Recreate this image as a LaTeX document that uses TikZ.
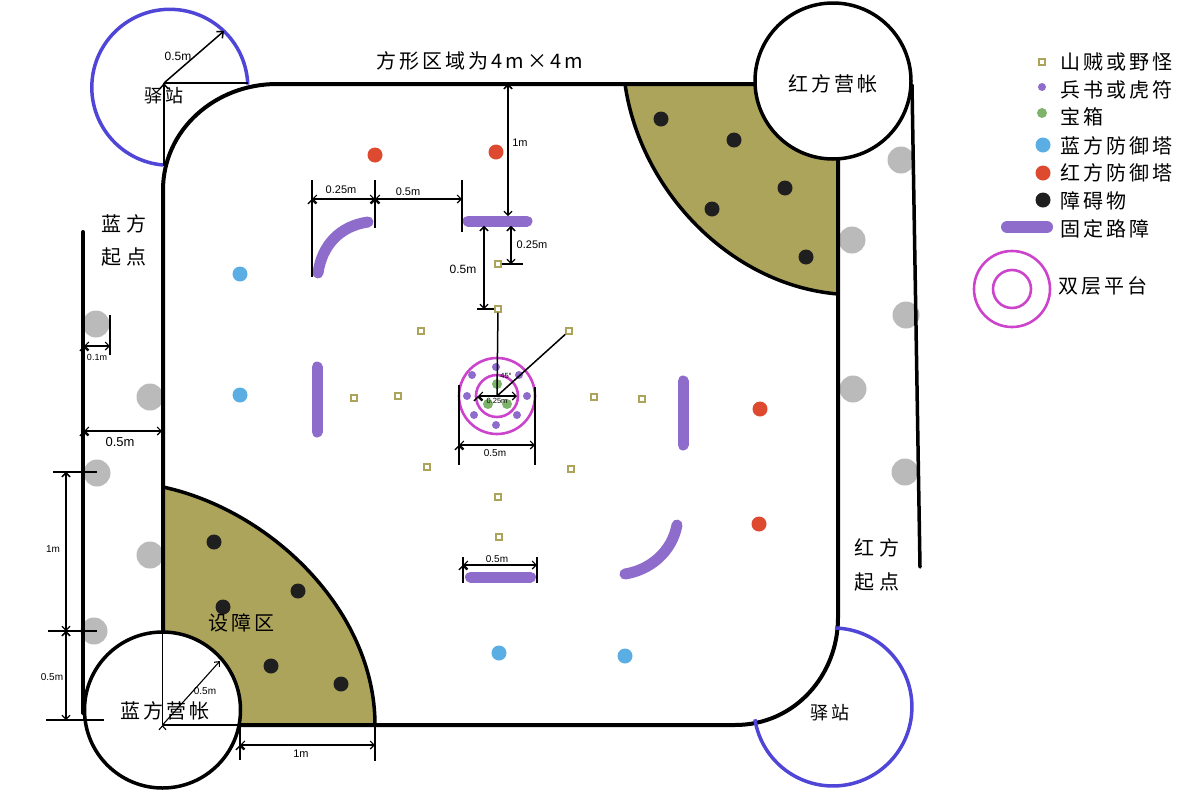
\documentclass[tikz,border=0pt]{standalone}
\usepackage{fontspec}
\setmainfont{Liberation Sans}
\newfontfamily\cjk[LetterSpace=15]{Noto Sans CJK SC}
\usetikzlibrary{shapes,arrows.meta}
\definecolor{zone}{HTML}{ADA45C}
\definecolor{barrier}{HTML}{8E6CCB}
\definecolor{platform}{HTML}{CC44CC}
\definecolor{relay}{HTML}{4F46D8}
\definecolor{redtower}{HTML}{DD4A2F}
\definecolor{bluetower}{HTML}{5AAEE3}
\definecolor{chest}{HTML}{7DB36B}
\definecolor{rock}{HTML}{1F1F1F}
\tikzset{
  wall/.style={draw=black,line width=4pt},
  tent/.style={shape=circle,draw=black,fill=white,line width=3.5pt,inner sep=0pt,minimum size=156pt},
  spot/.style={shape=circle,fill=#1,inner sep=0pt,minimum size=15pt},
  gem/.style={shape=circle,fill=#1,inner sep=0pt,minimum size=8pt},
  grey/.style={shape=circle,fill=black!27,inner sep=0pt,minimum size=27pt},
  mob/.style={shape=rectangle,draw=zone,fill=white,line width=1.4pt,inner sep=0pt,minimum size=6pt},
  ring/.style={shape=circle,draw=platform,line width=2.6pt,inner sep=0pt,minimum size=#1},
  bar/.style={draw=barrier,line width=11pt,line cap=round},
  dim/.style={draw=black,line width=1.1pt,{Straight Barb[length=4pt,width=8pt]}-{Straight Barb[length=4pt,width=8pt]}},
  tick/.style={draw=black,line width=1.5pt},
  lab/.style={font=\fontsize{#1}{#1}\selectfont,inner sep=0pt},
  word/.style={font=\cjk\fontsize{20}{20}\selectfont,inner sep=0pt},
  key/.style={word,anchor=west},
}
\begin{document}
\begin{tikzpicture}[x=1pt,y=-1pt]
\useasboundingbox (0,0) rectangle (1200,793);

% zones
\fill [zone] (163,725) -- (163,487) .. controls (270,510) and (375,610) .. (375,725) -- cycle;
\fill [zone] (625,84) .. controls (640,190) and (730,285) .. (838,294) -- (838,84) -- cycle;

% grey spots
\node[grey] (gl1) at (96,324) {};
\node[grey] (gl2) at (150,397) {};
\node[grey] (gl3) at (97,473) {};
\node[grey] (gl4) at (150,555) {};
\node[grey] (gl5) at (94,631) {};
\node[grey] (gr1) at (901,160) {};
\node[grey] (gr2) at (852,240) {};
\node[grey] (gr3) at (906,315) {};
\node[grey] (gr4) at (853,389) {};
\node[grey] (gr5) at (905,472) {};

% walls
\draw [wall] (163,725) -- (163,190) .. controls (163,130) and (215,84) .. (277,84) -- (760,84);
\draw [wall] (838,150) -- (838,618) .. controls (838,675) and (795,725) .. (735,725) -- (240,725);
\draw [wall,line width=3.5pt] (163,487) .. controls (270,510) and (375,610) .. (375,725);
\draw [wall,line width=3.5pt] (625,84) .. controls (640,190) and (730,285) .. (838,294);
\draw [wall,line cap=round] (83,232) -- (83,713);
\draw [wall,line width=3.5pt,line cap=round] (912,85) -- (920,567);

% relay stations
\draw [draw=relay,line width=3.5pt] (163,165) arc [start angle=95,end angle=358,radius=78];
\draw [draw=relay,line width=3.5pt] (835,628) arc [start angle=-88.5,end angle=171,radius=79];

% camps
\node[tent] (redcamp) at (833,81) {};
\node[tent] (bluecamp) at (162.5,710) {};

% obstacles
\node[spot=rock] (o1) at (661,119) {};
\node[spot=rock] (o2) at (734,140) {};
\node[spot=rock] (o3) at (785,188) {};
\node[spot=rock] (o4) at (712,209) {};
\node[spot=rock] (o5) at (806,257) {};
\node[spot=rock] (o6) at (214,542) {};
\node[spot=rock] (o7) at (298,591) {};
\node[spot=rock] (o8) at (223,607) {};
\node[spot=rock] (o9) at (271,666) {};
\node[spot=rock] (o10) at (341,684) {};

% towers
\node[spot=redtower] (r1) at (375,155) {};
\node[spot=redtower] (r2) at (496,152) {};
\node[spot=redtower] (r3) at (760,409) {};
\node[spot=redtower] (r4) at (759,524) {};
\node[spot=bluetower] (b1) at (240,274) {};
\node[spot=bluetower] (b2) at (240,395) {};
\node[spot=bluetower] (b3) at (499,653) {};
\node[spot=bluetower] (b4) at (625,656) {};

% mobs
\node[mob] (m1) at (498,264) {};
\node[mob] (m2) at (498,309) {};
\node[mob] (m3) at (421,331) {};
\node[mob] (m4) at (569,331) {};
\node[mob] (m5) at (354,398) {};
\node[mob] (m6) at (398,396) {};
\node[mob] (m7) at (594,397) {};
\node[mob] (m8) at (642,399) {};
\node[mob] (m9) at (427,467) {};
\node[mob] (m10) at (571,469) {};
\node[mob] (m11) at (498,497) {};
\node[mob] (m12) at (499,537) {};

% fixed barriers
\draw [bar] (468,221) -- (527,221);
\draw [bar] (317,367) -- (317,432);
\draw [bar] (683,381) -- (683,445);
\draw [bar] (470.5,577) -- (530.5,577);
\draw [bar] (318,273) .. controls (322,245) and (340,226) .. (368,222);
\draw [bar] (625,574) .. controls (650,570) and (672,552) .. (677,525);

% platform
\node[ring=76pt] (outer) at (497,396) {};
\node[ring=42pt] (inner) at (497,396) {};
\node[gem=barrier] (p1) at (496,367) {};
\node[gem=barrier] (p2) at (519,375) {};
\node[gem=barrier] (p3) at (527,396) {};
\node[gem=barrier] (p4) at (517,415) {};
\node[gem=barrier] (p5) at (496,425) {};
\node[gem=barrier] (p6) at (474,415) {};
\node[gem=barrier] (p7) at (467,396) {};
\node[gem=barrier] (p8) at (472,375) {};
\node[spot=chest,minimum size=10pt] (g1) at (497,384) {};
\node[spot=chest,minimum size=10pt] (g2) at (488,404) {};
\node[spot=chest,minimum size=10pt] (g3) at (507,404) {};
\coordinate (mid) at (497,396);

% dimension points
\coordinate (a1) at (312,199);
\coordinate (a2) at (375,199);
\coordinate (a3) at (462,199);
\coordinate (t1) at (312,180);
\coordinate (t2) at (312,277);
\coordinate (t3) at (375,180);
\coordinate (t4) at (375,228);
\coordinate (t5) at (462,180);
\coordinate (t6) at (462,232);
\coordinate (c1) at (508,84);
\coordinate (c2) at (508,216);
\coordinate (c3) at (511,226);
\coordinate (c4) at (511,264);
\coordinate (c5) at (484,226);
\coordinate (c6) at (484,309);
\coordinate (c7) at (523,264);
\coordinate (c8) at (477,309);
\coordinate (w1) at (478,396);
\coordinate (w2) at (517,396);
\coordinate (w3) at (459,445);
\coordinate (w4) at (535,445);
\coordinate (w5) at (459,385);
\coordinate (w6) at (459,465);
\coordinate (w7) at (535,387);
\coordinate (w8) at (535,465);
\coordinate (n1) at (463,565);
\coordinate (n2) at (537,565);
\coordinate (n3) at (463,557);
\coordinate (n4) at (463,583);
\coordinate (n5) at (537,557);
\coordinate (n6) at (537,583);
\coordinate (l1) at (84,346);
\coordinate (l2) at (110,346);
\coordinate (l3) at (110,315);
\coordinate (l4) at (110,355);
\coordinate (l5) at (84,431);
\coordinate (l6) at (162,431);
\coordinate (v1) at (66,472);
\coordinate (v2) at (66,631);
\coordinate (v3) at (66,720);
\coordinate (v4) at (53,472);
\coordinate (v5) at (97,472);
\coordinate (v6) at (48,631);
\coordinate (v7) at (97,631);
\coordinate (v8) at (46,720);
\coordinate (v9) at (104,720);
\coordinate (u1) at (240,745);
\coordinate (u2) at (375,745);
\coordinate (u3) at (240,725);
\coordinate (u4) at (240,760);
\coordinate (u5) at (375,725);
\coordinate (u6) at (375,761);
\coordinate (s0) at (164,83);
\coordinate (s1) at (224,31);
\coordinate (s2) at (248,83);
\coordinate (s3) at (164,166);
\coordinate (k0) at (162.5,725);
\coordinate (k1) at (220,661);
\coordinate (k2) at (162.5,632);
\coordinate (k3) at (240,725);

% dimensions
\path [dim] (a1) edge (a2);
\path [dim] (a2) edge (a3);
\path [tick] (t1) edge (t2);
\path [tick] (t3) edge (t4);
\path [tick] (t5) edge (t6);
\path [dim] (c1) edge (c2);
\path [dim] (c3) edge (c4);
\path [dim] (c5) edge (c6);
\path [tick] (m1) edge (c7);
\path [tick] (c8) edge (m2);
\path [tick] (m2) edge (mid);
\path [tick] (mid) edge (m4);
\path [dim] (w1) edge (w2);
\path [dim] (w3) edge (w4);
\path [tick] (w5) edge (w6);
\path [tick] (w7) edge (w8);
\path [dim] (n1) edge (n2);
\path [tick] (n3) edge (n4);
\path [tick] (n5) edge (n6);
\path [dim] (l1) edge (l2);
\path [tick] (l3) edge (l4);
\path [dim] (l5) edge (l6);
\path [dim] (v1) edge (v2);
\path [dim] (v2) edge (v3);
\path [tick] (v4) edge (v5);
\path [tick] (v6) edge (v7);
\path [tick] (v8) edge (v9);
\path [dim] (u1) edge (u2);
\path [tick] (u3) edge (u4);
\path [tick] (u5) edge (u6);
\path [tick,-{Straight Barb[length=5pt,width=9pt]}] (s0) edge (s1);
\path [tick] (s0) edge (s2);
\path [tick] (s0) edge (s3);
\path [tick,line width=1.1pt,-{Straight Barb[length=4pt,width=7pt]}] (k0) edge (k1);
\path [tick,line width=1.1pt] (k0) edge (k2);
\path [tick,line width=1.1pt] (k0) edge (k3);

% dimension labels
\node[lab=11] (d1) at (341,190) {0.25m};
\node[lab=11] (d2) at (408,192) {0.5m};
\node[lab=11] (d3) at (520,143) {1m};
\node[lab=11] (d4) at (532,245) {0.25m};
\node[lab=12] (d5) at (463,269) {0.5m};
\node[lab=7.5] (d6) at (506,376) {45°};
\node[lab=7.5] (d7) at (497,401) {0.25m};
\node[lab=10] (d8) at (495,453) {0.5m};
\node[lab=10] (d16) at (497,559) {0.5m};
\node[lab=9] (d9) at (97,357) {0.1m};
\node[lab=13] (d10) at (120,442) {0.5m};
\node[lab=10] (d11) at (53,549) {1m};
\node[lab=10] (d12) at (52,677) {0.5m};
\node[lab=11] (d13) at (301,754) {1m};
\node[lab=10] (d14) at (205,691) {0.5m};
\node[lab=12] (d15) at (178,56) {0.5m};

% words
\node[word] (title) at (480,61) {方形区域为4m×4m};
\node[word] (bs1) at (124,224) {蓝\hspace{5pt}方};
\node[word] (bs2) at (124,257) {起\hspace{5pt}点};
\node[word] (rs1) at (877,548) {红\hspace{5pt}方};
\node[word] (rs2) at (877,582) {起\hspace{5pt}点};
\node[word,font=\cjk\fontsize{18}{18}\selectfont] (st1) at (164,96) {驿站};
\node[word,font=\cjk\fontsize{18}{18}\selectfont] (st2) at (830,713) {驿站};
\node[word] (rc) at (833,84) {红方营帐};
\node[word] (bc) at (165,711) {蓝方营帐};
\node[word] (zn) at (241,623) {设障区};

% legend
\node[mob] (km) at (1042,62) {};
\node[gem=barrier,minimum size=8pt] (kp) at (1042,87) {};
\node[spot=chest,minimum size=10pt] (kg) at (1042,113) {};
\node[spot=bluetower] (kb) at (1043,145) {};
\node[spot=redtower] (kr) at (1043,173) {};
\node[spot=rock] (ko) at (1043,200) {};
\coordinate (kl) at (1007,227);
\coordinate (kl2) at (1047,227);
\draw [bar,line width=12pt] (kl) -- (kl2);
\node[ring=76pt] (kouter) at (1012,289) {};
\node[ring=38pt] (kinner) at (1012,289) {};
\node[key] (t1k) at (1060,62) {山贼或野怪};
\node[key] (t2k) at (1060,90) {兵书或虎符};
\node[key] (t3k) at (1060,117) {宝箱};
\node[key] (t4k) at (1060,146) {蓝方防御塔};
\node[key] (t5k) at (1060,173) {红方防御塔};
\node[key] (t6k) at (1060,201) {障碍物};
\node[key] (t7k) at (1060,229) {固定路障};
\node[key] (t8k) at (1058,286) {双层平台};
\end{tikzpicture}
\end{document}
